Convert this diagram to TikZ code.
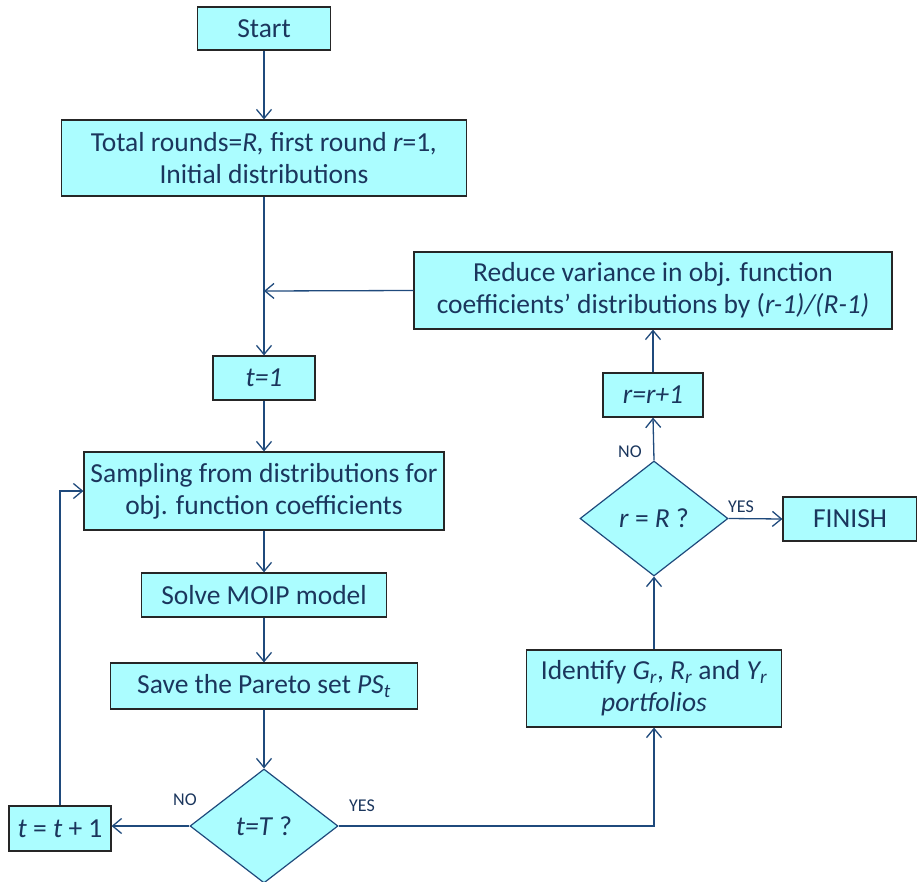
\documentclass[tikz,border=0pt]{standalone}
\usepackage{fontspec}
\setmainfont{Carlito}
\usetikzlibrary{shapes.geometric,arrows.meta,calc}
\definecolor{boxfill}{HTML}{ABFDFF}
\definecolor{txt}{HTML}{1B365D}
\definecolor{lnc}{HTML}{1F4A7C}
\tikzset{
  stepbox/.style={draw=black!85,line width=1.2pt,fill=boxfill,text=txt,align=center,inner sep=0pt,
    font=\fontsize{27.5}{32}\selectfont},
  decision/.style={diamond,draw=lnc,line width=1.2pt,fill=boxfill,text=txt,inner sep=0pt,
    font=\fontsize{27.5}{32}\selectfont},
  conn/.style={draw=lnc,line width=1.3pt,-{Straight Barb[length=9pt,width=15pt,line width=1.3pt]}},
  lbl/.style={text=txt,font=\fontsize{18}{20}\selectfont,inner sep=0pt}
}
\begin{document}
\begin{tikzpicture}[x=1pt,y=-1pt]
\useasboundingbox (0,0) rectangle (917,882);
\node[stepbox,minimum width=133pt,minimum height=43pt] (start) at (264,28.5) {Start};
\node[stepbox,minimum width=405pt,minimum height=76pt] (total) at (264,158) {Total rounds=\textit{R,} first round \textit{r}=1\textit{,}\\Initial distributions};
\node[stepbox,minimum width=478pt,minimum height=77pt] (reduce) at (653,290.5) {Reduce variance in obj. function\\coefficients’ distributions by (\textit{r-1)/(R-1)}};
\node[stepbox,minimum width=100pt,minimum height=44pt] (rr1) at (653,395) {\textit{r=r+1}};
\node[stepbox,minimum width=102pt,minimum height=44pt] (t1) at (264,378) {\textit{t=1}};
\node[stepbox,minimum width=360pt,minimum height=78pt] (samp) at (264,491) {Sampling from distributions for\\obj. function coefficients};
\node[stepbox,minimum width=245pt,minimum height=44pt] (solve) at (264,595) {Solve MOIP model};
\node[stepbox,minimum width=307pt,minimum height=46pt] (save) at (264,686) {Save the Pareto set \textit{PS}\textsubscript{\textit{t}}};
\node[decision,minimum width=148pt,minimum height=114pt] (dT) at (264,826) {\textit{t=T} ?};
\node[stepbox,minimum width=102pt,minimum height=45pt] (tt1) at (60,828.5) {\textit{t} = \textit{t} + 1};
\node[stepbox,minimum width=255pt,minimum height=77pt] (ident) at (654,688.5) {Identify \textit{G\textsubscript{r}}, \textit{R\textsubscript{r}} and \textit{Y\textsubscript{r}}\\\textit{portfolios}};
\node[decision,minimum width=148pt,minimum height=115pt] (dR) at (654,518.5) {\textit{r} = \textit{R} ?};
\node[stepbox,minimum width=134pt,minimum height=44pt] (finish) at (850,519) {FINISH};
\coordinate (m) at (264,291);
\coordinate (yc) at (654,826);
\draw[conn] (start) -- (total);
\draw[conn] (total) -- (t1);
\draw[conn] (reduce.west) -- (m);
\draw[conn] (t1) -- (samp);
\draw[conn] (samp) -- (solve);
\draw[conn] (solve) -- (save);
\draw[conn] (save) -- (dT);
\draw[conn] (dT.west) -- (dT.west -| tt1.east);
\draw[conn] (tt1.north) |- (samp.west);
\draw[conn] (dT.east) -- (yc) -- (ident.south);
\draw[conn] (ident) -- (dR);
\draw[conn] (dR.east) -- (finish.west);
\draw[conn] (dR.north) -- (rr1.south);
\draw[conn] (rr1) -- (reduce);
\node[lbl] (noT) at (185,800) {NO};
\node[lbl] (yesT) at (362,806) {YES};
\node[lbl] (yesR) at (741,507) {YES};
\node[lbl] (noR) at (630,452) {NO};
\end{tikzpicture}
\end{document}
